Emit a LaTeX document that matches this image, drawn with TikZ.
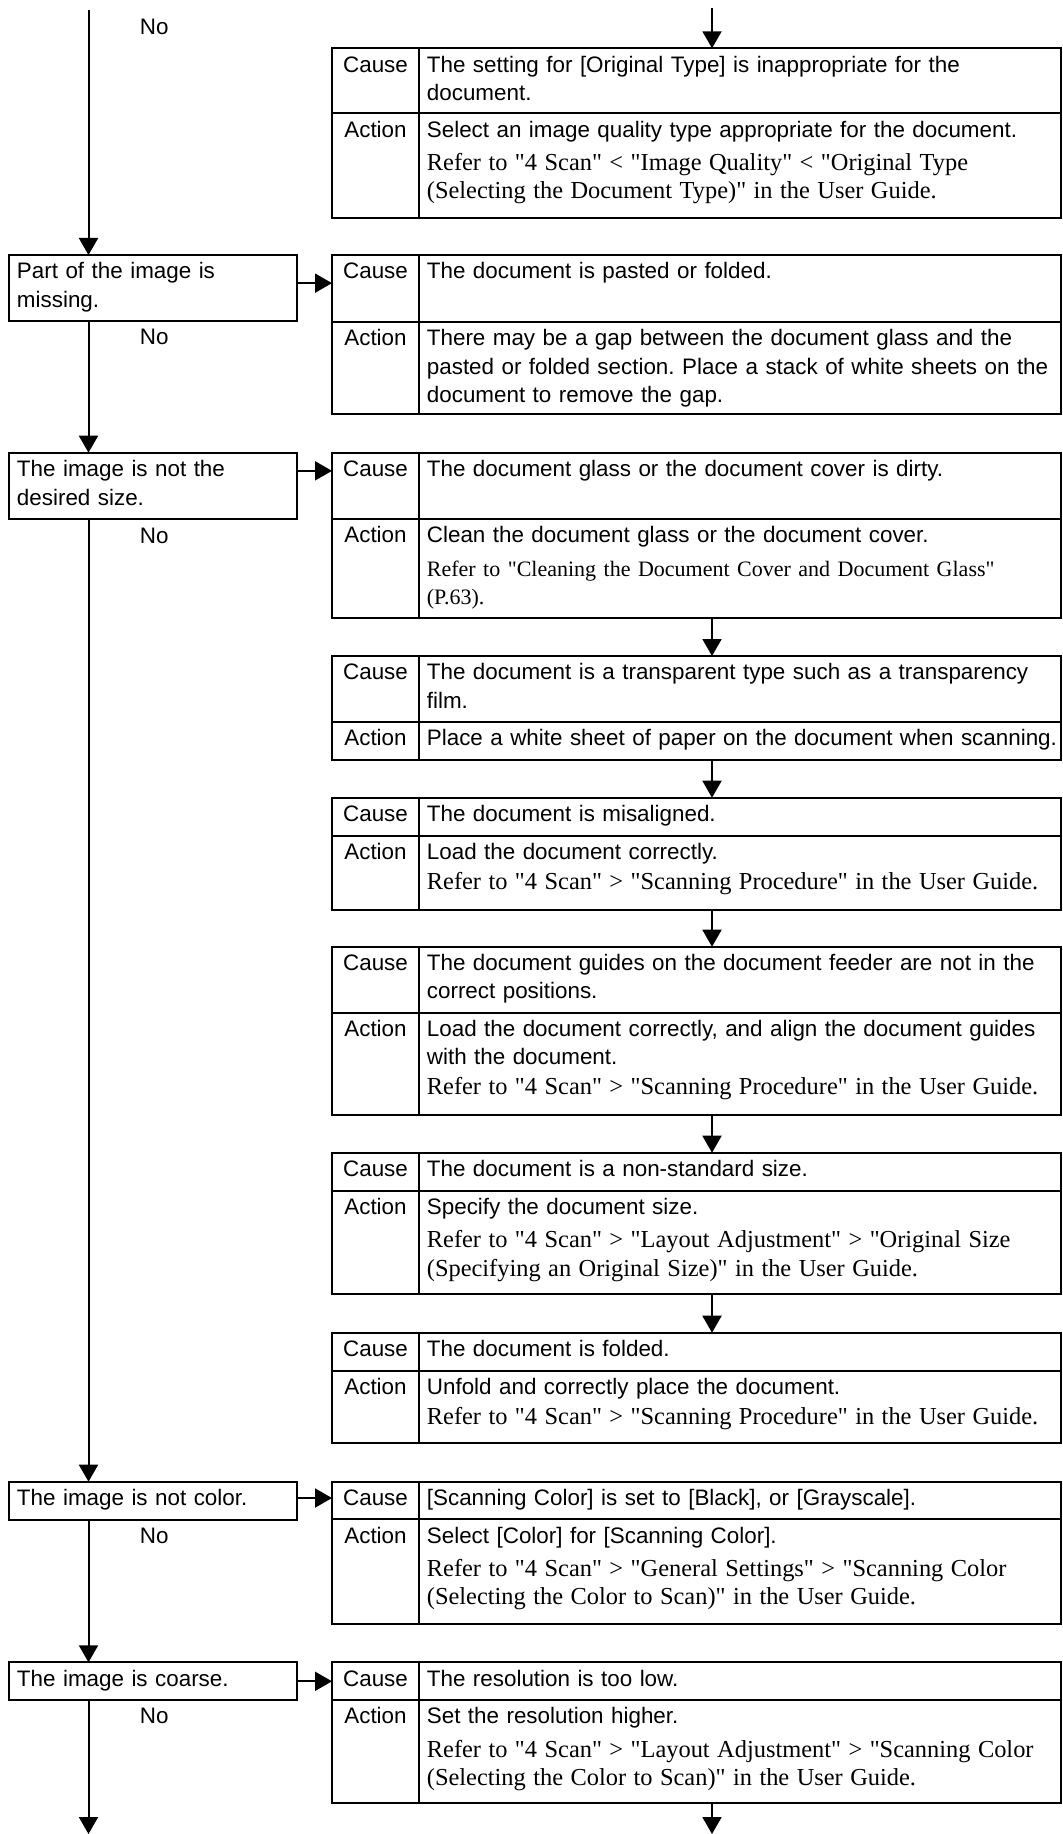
\documentclass[tikz,border=0pt]{standalone}
\usepackage{fontspec}
\setmainfont{Liberation Sans}
\newfontfamily\fcserif{Liberation Serif}
\usepackage{tikz}
\usetikzlibrary{arrows.meta}
\setlength{\parindent}{0pt}
\frenchspacing
\newcommand\fcsans{\fontsize{11.2pt}{14.15pt}\selectfont}
\newcommand\fcref{\par\vspace{0.8pt}\fcserif\fontsize{12.2pt}{15.85pt}\selectfont}
\newcommand\fcrefsmall{\par\vspace{2.45pt}\fcserif\fontsize{11pt}{14.2pt}\selectfont}
\newcommand\fcstrut{\rule{0pt}{10pt}}
\newcommand\fcdepth{\rule[-5pt]{0pt}{5pt}}
\tikzset{
  fc frame/.style={draw,line width=1pt,inner sep=0pt,outer sep=0pt,anchor=north west,minimum width=364.5pt},
  fc rule/.style={line width=1pt},
  fc box/.style={draw,line width=1pt,outer sep=0pt,anchor=north west,text width=135.8pt,align=left,inner xsep=4.2pt,inner ysep=2pt},
  fc label/.style={anchor=north,inner sep=0pt},
  fc text/.style={anchor=north west,inner sep=0pt,text width=330pt,align=left},
  fc no/.style={anchor=base west,inner sep=0pt},
  fc arrow/.style={line width=1pt,-{Triangle[length=8.5pt,width=9.5pt]}}
}
\begin{document}
\begin{tikzpicture}[x=0.5pt,y=-0.5pt,font=\fcsans]
  \useasboundingbox (0,0) rectangle (1063,1834);
  \foreach \nm/\ytop/\ymid/\ybot in {t1/48.3/113.3/218.3,t2/255/322/414,t3/452.7/519/617.7,
      t4/656/721.7/760,t5/797.7/836/910,t6/946.7/1012.7/1115,t7/1152.7/1190.7/1294.3,
      t8/1332.7/1370.7/1443.3,t9/1481.7/1519.3/1624,t10/1662.3/1700/1803.3}{
    \node[fc frame,minimum height={(\ybot-\ytop)*0.5pt}] (\nm) at (332,\ytop) {};
    \draw[fc rule] (332,\ymid) -- (1061,\ymid);
    \draw[fc rule] (419,\ytop) -- (419,\ybot);
    \node[fc label] (\nm-cl) at (375.5,\ytop+3.5) {\fcstrut Cause};
    \node[fc label] (\nm-al) at (375.5,\ymid+3.5) {\fcstrut Action};
    \coordinate (\nm-c) at (426.5,\ytop+3.5);
    \coordinate (\nm-a) at (426.5,\ymid+3.5);
  }

  \node[fc text] (t1-ct) at (t1-c) {\fcstrut The setting for [Original Type] is inappropriate for the\\ document.};
  \node[fc text] (t1-at) at (t1-a) {\fcstrut Select an image quality type appropriate for the document.\fcref Refer to "4 Scan" < "Image Quality" < "Original Type\\ (Selecting the Document Type)" in the User Guide.};
  \node[fc text] (t2-ct) at (t2-c) {\fcstrut The document is pasted or folded.};
  \node[fc text] (t2-at) at (t2-a) {\fcstrut There may be a gap between the document glass and the\\ pasted or folded section. Place a stack of white sheets on the\\ document to remove the gap.};
  \node[fc text] (t3-ct) at (t3-c) {\fcstrut The document glass or the document cover is dirty.};
  \node[fc text] (t3-at) at (t3-a) {\fcstrut Clean the document glass or the document cover.\fcrefsmall Refer to "Cleaning the Document Cover and Document Glass"\\ (P.63).};
  \node[fc text] (t4-ct) at (t4-c) {\fcstrut The document is a transparent type such as a transparency\\ film.};
  \node[fc text] (t4-at) at (t4-a) {\fcstrut Place a white sheet of paper on the document when scanning.};
  \node[fc text] (t5-ct) at (t5-c) {\fcstrut The document is misaligned.};
  \node[fc text] (t5-at) at (t5-a) {\fcstrut Load the document correctly.\fcref Refer to "4 Scan" > "Scanning Procedure" in the User Guide.};
  \node[fc text] (t6-ct) at (t6-c) {\fcstrut The document guides on the document feeder are not in the\\ correct positions.};
  \node[fc text] (t6-at) at (t6-a) {\fcstrut Load the document correctly, and align the document guides\\ with the document.\fcref Refer to "4 Scan" > "Scanning Procedure" in the User Guide.};
  \node[fc text] (t7-ct) at (t7-c) {\fcstrut The document is a non-standard size.};
  \node[fc text] (t7-at) at (t7-a) {\fcstrut Specify the document size.\fcref Refer to "4 Scan" > "Layout Adjustment" > "Original Size\\ (Specifying an Original Size)" in the User Guide.};
  \node[fc text] (t8-ct) at (t8-c) {\fcstrut The document is folded.};
  \node[fc text] (t8-at) at (t8-a) {\fcstrut Unfold and correctly place the document.\fcref Refer to "4 Scan" > "Scanning Procedure" in the User Guide.};
  \node[fc text] (t9-ct) at (t9-c) {\fcstrut [Scanning Color] is set to [Black], or [Grayscale].};
  \node[fc text] (t9-at) at (t9-a) {\fcstrut Select [Color] for [Scanning Color].\fcref Refer to "4 Scan" > "General Settings" > "Scanning Color\\ (Selecting the Color to Scan)" in the User Guide.};
  \node[fc text] (t10-ct) at (t10-c) {\fcstrut The resolution is too low.};
  \node[fc text] (t10-at) at (t10-a) {\fcstrut Set the resolution higher.\fcref Refer to "4 Scan" > "Layout Adjustment" > "Scanning Color\\ (Selecting the Color to Scan)" in the User Guide.};

  \node[fc box] (b1) at (8.6,255) {\fcstrut Part of the image is\\ missing.\fcdepth};
  \node[fc box] (b2) at (8.6,452.7) {\fcstrut The image is not the\\ desired size.\fcdepth};
  \node[fc box] (b3) at (8.6,1481.7) {\fcstrut The image is not color.\fcdepth};
  \node[fc box] (b4) at (8.6,1662.3) {\fcstrut The image is coarse.\fcdepth};

  \node[fc no] (no0) at (139.5,35) {No};
  \node[fc no] (no1) at (139.5,344.7) {No};
  \node[fc no] (no2) at (139.5,543) {No};
  \node[fc no] (no3) at (139.5,1543) {No};
  \node[fc no] (no4) at (139.5,1723) {No};

  \coordinate (m0) at (88.5,10);
  \coordinate (m1) at (88.5,1834);
  \coordinate (r0) at (712,8);
  \coordinate (r1) at (712,1834);
  \draw[fc arrow] (m0) -- (b1.north -| m0);
  \draw[fc arrow] (b1.south -| m0) -- (b2.north -| m0);
  \draw[fc arrow] (b2.south -| m0) -- (b3.north -| m0);
  \draw[fc arrow] (b3.south -| m0) -- (b4.north -| m0);
  \draw[fc arrow] (b4.south -| m0) -- (m1);

  \coordinate (h1) at ([yshift=2.5pt]b1.east);
  \coordinate (h2) at ([yshift=7.5pt]b2.east);
  \coordinate (h3) at ([yshift=1.35pt]b3.east);
  \coordinate (h4) at (b4.east);
  \foreach \h/\t in {h1/t2,h2/t3,h3/t9,h4/t10}
    \draw[fc arrow] (\h) -- (\h -| \t.west);

  \draw[fc arrow] (r0) -- (t1.north -| r0);
  \foreach \a/\b in {t3/t4,t4/t5,t5/t6,t6/t7,t7/t8}
    \draw[fc arrow] (\a.south -| r0) -- (\b.north -| r0);
  \draw[fc arrow] (t10.south -| r0) -- (r1);
\end{tikzpicture}
\end{document}
